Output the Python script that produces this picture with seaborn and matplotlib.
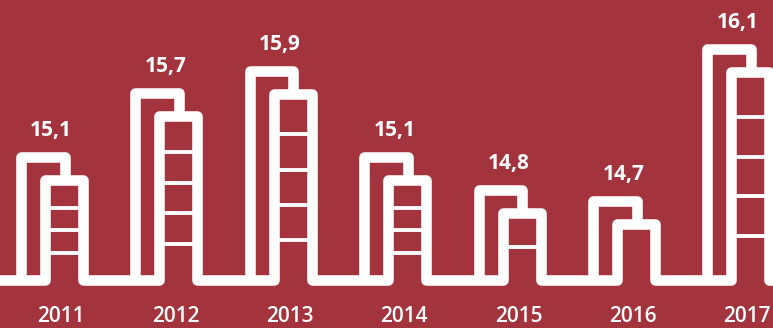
import numpy as np
import pandas as pd
import matplotlib
matplotlib.use("Agg")
import matplotlib.pyplot as plt
import seaborn as sns

# ---- data ----
years = ["2011", "2012", "2013", "2014", "2015", "2016", "2017"]
values = [15.1, 15.7, 15.9, 15.1, 14.8, 14.7, 16.1]
floors = [4, 5, 5, 4, 2, 1, 5]  # decorative floor cells in the front building

# ---- style constants ----
BG = "#A3343E"
FG = "white"
BASE = 13.96          # value at the street line
STEP = 0.213          # front building is lower than the back one
BACK_L, BACK_R = -0.35, 0.032
FRONT_L, FRONT_R = -0.14, 0.192
LW = 7.6
FLOOR_LW = 2.8

sns.set_theme(style="white")
plt.rcParams["font.family"] = ["Open Sans", "DejaVu Sans"]

fig = plt.figure(figsize=(7.73, 3.28), dpi=100, facecolor=BG)
ax = fig.add_axes([0, 0, 1, 1])
ax.set_facecolor(BG)
ax.set_xlim(-0.533, 6.224)
ax.set_ylim(13.52, 16.557)
ax.axis("off")

n = len(years)
idx = np.arange(n)

# street / front buildings: one continuous path
sx, sy = [-1.0], [BASE]
for i, v in zip(idx, values):
    ft = v - STEP
    sx += [i + FRONT_L, i + FRONT_L, i + FRONT_R, i + FRONT_R]
    sy += [BASE, ft, ft, BASE]
sx.append(n + 1.0)
sy.append(BASE)
street = pd.DataFrame({"x": sx, "y": sy})
sns.lineplot(data=street, x="x", y="y", sort=False, estimator=None, ax=ax,
             color=FG, linewidth=LW, solid_joinstyle="round", solid_capstyle="round")

# back buildings
rows = []
for i, v in zip(idx, values):
    ft = v - STEP
    for k, (x, y) in enumerate([(i + BACK_L, BASE), (i + BACK_L, v), (i + BACK_R, v), (i + BACK_R, ft)]):
        rows.append({"x": x, "y": y, "u": i, "o": k})
back = pd.DataFrame(rows)
sns.lineplot(data=back, x="x", y="y", units="u", sort=False, estimator=None, ax=ax,
             color=FG, linewidth=LW, solid_joinstyle="round", solid_capstyle="butt")

# floors of the front buildings
frows = []
pt = 100 / 72.0
half_px = (LW * pt) / 2
px_per_unit = 328 / (16.557 - 13.52)
for i, v, f in zip(idx, values, floors):
    ft = v - STEP
    top_in = ft - half_px / px_per_unit
    bot_in = BASE + half_px / px_per_unit
    for k in range(1, f):
        yk = top_in - (top_in - bot_in) * k / f
        frows.append({"x": i + FRONT_L, "y": yk, "u": f"{i}-{k}"})
        frows.append({"x": i + FRONT_R, "y": yk, "u": f"{i}-{k}"})
if frows:
    fl = pd.DataFrame(frows)
    sns.lineplot(data=fl, x="x", y="y", units="u", sort=False, estimator=None, ax=ax,
                 color=FG, linewidth=FLOOR_LW, solid_capstyle="butt")

# value labels
for i, v in zip(idx, values):
    ax.annotate(f"{v:.1f}".replace(".", ","), (i - 0.085, v), xytext=(0, 19.0),
                textcoords="offset points", ha="center", va="center",
                color=FG, fontsize=15, fontweight="bold")

# year labels
for i, y in zip(idx, years):
    ax.text(i, 0.036, y, transform=ax.get_xaxis_transform(), ha="center", va="center",
            color=FG, fontsize=15, fontweight="semibold")

fig.savefig("out.png", dpi=100, facecolor=BG)
